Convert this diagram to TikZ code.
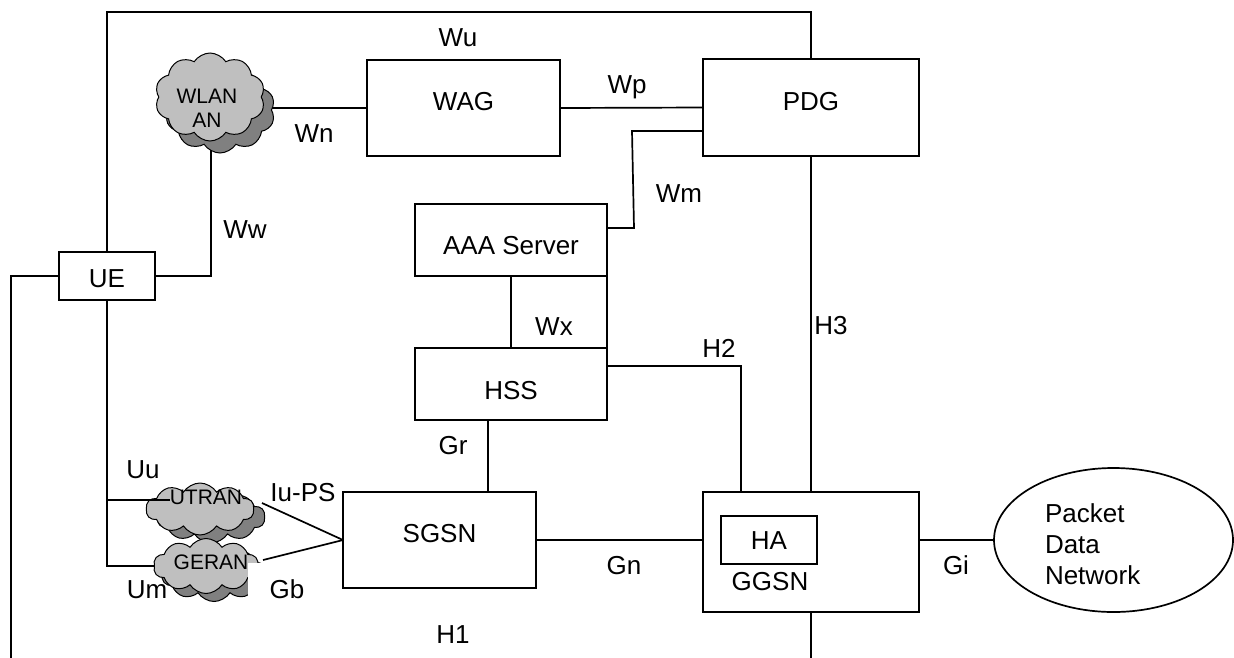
\documentclass[tikz,border=0pt]{standalone}
\usepackage{fontspec}
\setmainfont{Liberation Sans}
\usetikzlibrary{shapes.symbols,shapes.geometric,backgrounds}
\begin{document}
\begin{tikzpicture}[x=1pt,y=-1pt,
  every node/.style={inner sep=0pt, outer sep=0pt},
  box/.style={draw, line width=1.7pt, rectangle, font=\fontsize{26}{30}\selectfont, text depth=0pt},
  lbl/.style={font=\fontsize{26}{30}\selectfont, text height=18pt, text depth=0pt},
  wire/.style={line width=1.7pt},
  cl/.style={cloud, cloud puffs=10, cloud puff arc=115, cloud ignores aspect, draw=black, line width=1pt, fill=black!25},
  cls/.style={cl, fill=black!50},
  cltext/.style={font=\fontsize{21}{24}\selectfont, align=center}
]
\useasboundingbox (0,0) rectangle (1234,657);

% boxes
\node[box, minimum width=96, minimum height=48, text height=22pt] (ue) at (107,276) {UE};
\node[box, minimum width=193, minimum height=96, text height=5pt] (wag) at (463.5,108) {WAG};
\node[box, minimum width=216, minimum height=97, text height=6pt] (pdg) at (811,107.5) {PDG};
\node[box, minimum width=192, minimum height=72, text height=29pt] (aaa) at (511,240) {AAA Server};
\node[box, minimum width=192, minimum height=72, text height=30pt] (hss) at (511,384) {HSS};
\node[box, minimum width=193, minimum height=96, text height=5pt] (sgsn) at (439.5,540) {SGSN};
\node[box, minimum width=216, minimum height=120] (ggsn) at (811,552) {};
\node[box, minimum width=96, minimum height=48, text height=18pt] (ha) at (769,540) {HA\hspace{18pt}};
\node[lbl] (ggsnlbl) at (770,581) {GGSN};
\node[draw, ellipse, line width=1.7pt, minimum width=239, minimum height=144] (pdn) at (1113.5,540) {};
\node[font=\fontsize{26}{31}\selectfont, align=left, anchor=west] (pdntext) at (1045,544) {Packet\\Data\\Network};

% clouds
\node[cls, minimum width=110, minimum height=86] (wlanS) at (220,110) {};
\node[cl, minimum width=110, minimum height=88] (wlan) at (210,97) {};
\node[cltext] (wlantext) at (207,108) {WLAN\\AN};
\node[cls, minimum width=108, minimum height=52] (utranS) at (211,517) {};
\node[cl, minimum width=108, minimum height=52] (utran) at (200,509) {};
\node[cltext, text height=15pt, text depth=0pt] (utrantext) at (206,497) {UTRAN};
\node[cls, minimum width=105, minimum height=55] (geranS) at (214,574) {};
\node[cl, minimum width=105, minimum height=55] (geran) at (206,566) {};
\node[cltext, text height=15pt, text depth=0pt] (gerantext) at (211,562) {GERAN};
\fill[white] (248,563) rectangle (268,599);

% wires hidden under clouds
\begin{scope}[on background layer]
\draw[wire] (wlan.center |- wag.west) -- (wag.west);
\coordinate (wlanfoot) at (211,140);
\draw[wire] (ue.east) -| (wlanfoot);
\draw[wire] (ue.south) -- (ue.south |- geran.center) -- (geran.center);
\end{scope}

% wires
\coordinate (uuend) at (170,500);
\draw[wire] (ue.south |- uuend) -- (uuend);
\coordinate (iustart) at (262,503);
\coordinate (gbstart) at (263,560);
\draw[wire] (iustart) -- (sgsn.west);
\draw[wire] (gbstart) -- (sgsn.west);
\draw[wire] (ue.north) -- (ue.north |- 0,12) -| (pdg.north);
\coordinate (leftend) at (11,665);
\draw[wire] (ue.west) -| (leftend);
\draw[wire] (wag.east) -- (pdg.west);
\coordinate (wm1) at (632,131);
\coordinate (wm2) at (634,228);
\draw[wire] (pdg.west |- wm1) -- (wm1) -- (wm2) -- (aaa.east |- wm2);
\draw[wire] (aaa.south) -- (hss.north);
\draw[wire] (aaa.south east) -- (hss.north east);
\coordinate (h2c) at (741,366);
\draw[wire] (hss.east |- h2c) -| (ggsn.north -| h2c);
\coordinate (grc) at (488,0);
\draw[wire] (hss.south -| grc) -- (sgsn.north -| grc);
\draw[wire] (sgsn.east) -- (sgsn.east -| ggsn.west);
\draw[wire] (pdg.south) -- (pdg.south |- ggsn.north);
\coordinate (botend) at (811,665);
\draw[wire] (ggsn.south) -- (botend);
\draw[wire] (pdn.west -| ggsn.east) -- (pdn.west);

% labels
\node[lbl] (lwu) at (458,37) {Wu};
\node[lbl] (lwp) at (627,84) {Wp};
\node[lbl] (lwn) at (314,133) {Wn};
\node[lbl] (lww) at (245,229) {Ww};
\node[lbl] (lwm) at (679,193) {Wm};
\node[lbl] (lwx) at (554,326) {Wx};
\node[lbl] (lh2) at (719,348) {H2};
\node[lbl] (lh3) at (831,325) {H3};
\node[lbl] (lgr) at (453,445) {Gr};
\node[lbl] (lgn) at (624,565) {Gn};
\node[lbl] (lh1) at (453,634) {H1};
\node[lbl] (lgi) at (956,565) {Gi};
\node[lbl] (luu) at (143,469) {Uu};
\node[lbl] (liu) at (303,492) {Iu-PS};
\node[lbl] (lum) at (147,589) {Um};
\node[lbl] (lgb) at (287,589) {Gb};
\end{tikzpicture}
\end{document}
